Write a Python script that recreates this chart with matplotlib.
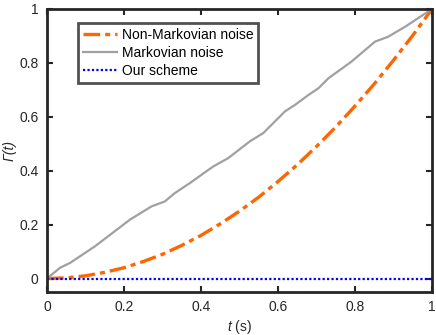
import matplotlib
matplotlib.use("Agg")
import matplotlib.pyplot as plt

plt.rcParams['font.family'] = ['Liberation Sans', 'DejaVu Sans']
plt.rcParams['mathtext.fontset'] = 'custom'
plt.rcParams['mathtext.it'] = 'Liberation Sans:italic'
plt.rcParams['mathtext.rm'] = 'Liberation Sans'

# --- data ---
t_nm = [0.0, 0.05, 0.1, 0.15, 0.2, 0.25, 0.3, 0.35, 0.4, 0.45, 0.5,
        0.55, 0.6, 0.65, 0.7, 0.75, 0.8, 0.85, 0.9, 0.95, 1.0]
g_nm = [0.0, 0.0025, 0.01, 0.023, 0.04, 0.063, 0.09, 0.123, 0.16, 0.203, 0.25,
        0.302, 0.36, 0.422, 0.49, 0.562, 0.64, 0.722, 0.81, 0.902, 1.0]

t_m = [0.0, 0.034, 0.06, 0.125, 0.216, 0.272, 0.306, 0.332, 0.371, 0.432, 0.471,
       0.527, 0.562, 0.618, 0.644, 0.679, 0.705, 0.731, 0.791, 0.852, 0.886,
       0.93, 1.0]
g_m = [0.0, 0.04, 0.058, 0.12, 0.219, 0.268, 0.286, 0.317, 0.354, 0.416, 0.447,
       0.509, 0.54, 0.62, 0.644, 0.681, 0.706, 0.743, 0.805, 0.879, 0.897,
       0.934, 1.0]

t_ours = [0.0, 1.0]
g_ours = [0.0, 0.0]

x_ticks = [0, 0.2, 0.4, 0.6, 0.8, 1]
x_labels = ['0', '0.2', '0.4', '0.6', '0.8', '1']
y_ticks = [0, 0.2, 0.4, 0.6, 0.8, 1]
y_labels = ['0', '0.2', '0.4', '0.6', '0.8', '1']

fig = plt.figure(figsize=(4.36, 3.35), dpi=100)
ax = fig.add_axes([47/436, 1 - 292/335, 385/436, 283/335])

ax.plot(t_nm, g_nm, color='#FF6600', lw=2.4, linestyle=(0, (5, 1.5, 1.5, 1.5)),
        label='Non-Markovian noise')
ax.plot(t_m, g_m, color='#A0A0A0', lw=1.6, label='Markovian noise')
ax.plot(t_ours, g_ours, color='#0000FF', lw=1.6, linestyle=(0, (1, 1)),
        label='Our scheme')

ax.set_xlim(0, 1)
ax.set_ylim(-0.05, 1)
ax.set_xticks(x_ticks, x_labels)
ax.set_yticks(y_ticks, y_labels)
ax.tick_params(direction='in', length=4, width=1.5, top=True, right=True,
               labelsize=10, colors='#262626', pad=6)
for s in ax.spines.values():
    s.set_linewidth(2)
    s.set_color('#262626')

ax.set_xlabel(r'$t$ (s)', fontsize=10, color='#262626', labelpad=3)
ax.set_ylabel('Γ(t)', fontsize=10, fontstyle='italic', color='#262626',
              labelpad=2)

leg = ax.legend(loc='upper left', bbox_to_anchor=(0.08, 0.95), fontsize=10,
                frameon=True, fancybox=False, edgecolor='#262626',
                borderpad=0.35, labelspacing=0.3, handlelength=2.5,
                handletextpad=0.3, borderaxespad=0)
leg.get_frame().set_linewidth(2)

fig.savefig('out.png', dpi=100)
